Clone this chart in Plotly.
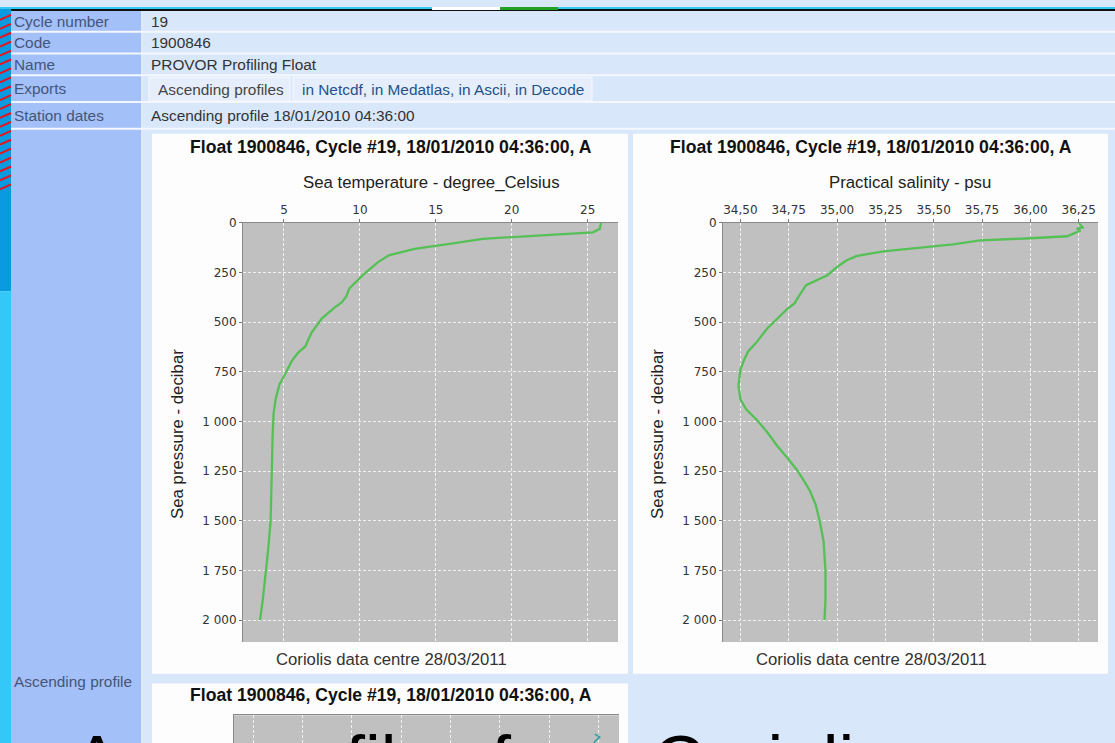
import plotly.graph_objects as go

W, H = 1115, 743

# ---------------- data ----------------
temp_pressure = [0, 30, 47, 72, 80, 105, 130, 163, 197, 255, 297, 330, 370, 400, 425, 450, 480,
                 555, 622, 655, 697, 772, 813, 888, 955, 1072, 1200, 1350, 1500, 1650, 1805, 1900, 2000]
temperature = [25.88, 25.8, 25.35, 20.25, 18.1, 15.9, 13.6, 11.9, 11.2, 10.3, 9.7, 9.3, 9.1, 8.8, 8.35, 7.95,
               7.5, 6.8, 6.4, 5.9, 5.5, 5.0, 4.7, 4.45, 4.32, 4.25, 4.2, 4.18, 4.12, 3.95, 3.75, 3.6, 3.42]

sal_pressure = [0, 22, 30, 38, 55, 67, 77, 88, 108, 127, 143, 160, 167, 188, 222, 263, 285, 313, 372,
                405, 435, 480, 530, 605, 647, 688, 738, 822, 888, 938, 997, 1055, 1122, 1180, 1240,
                1300, 1350, 1420, 1500, 1600, 1750, 1900, 2000]
salinity = [36.25, 36.27, 36.24, 36.26, 36.22, 36.19, 36.0, 35.74, 35.60, 35.40, 35.24, 35.14, 35.10,
            35.05, 35.0, 34.95, 34.90, 34.84, 34.80, 34.78, 34.74, 34.69, 34.64, 34.58, 34.54, 34.52,
            34.50, 34.49, 34.50, 34.53, 34.59, 34.64, 34.69, 34.74, 34.79, 34.83, 34.86, 34.89, 34.91,
            34.93, 34.94, 34.94, 34.935]

third_pressure = [95, 110, 125, 140]
third_values = [7.92, 8.02, 7.95, 7.9]

temp_ticks = [5, 10, 15, 20, 25]
sal_ticks = [34.50, 34.75, 35.00, 35.25, 35.50, 35.75, 36.00, 36.25]
pres_ticks = [0, 250, 500, 750, 1000, 1250, 1500, 1750, 2000]
third_ticks = [1, 2, 3, 4, 5, 6, 7, 8]

row_labels = ["Cycle number", "Code", "Name", "Exports", "Station dates"]
row_values = ["19", "1900846", "PROVOR Profiling Float", "", "Ascending profile 18/01/2010 04:36:00"]

chart_title = "Float 1900846, Cycle #19, 18/01/2010 04:36:00, A"
footer = "Coriolis data centre 28/03/2011"

# ---------------- helpers ----------------
def fx(x):
    return x / W

def fy(y):
    return 1 - y / H

shapes = []
annotations = []

def rect(x0, y0, x1, y1, color, line=None):
    shapes.append(dict(type="rect", xref="paper", yref="paper", layer="below",
                       x0=fx(x0), x1=fx(x1), y0=fy(y1), y1=fy(y0),
                       fillcolor=color, line=dict(width=1, color=line) if line else dict(width=0)))

def seg(x0, y0, x1, y1, color, width=1):
    shapes.append(dict(type="line", xref="paper", yref="paper", layer="below",
                       x0=fx(x0), x1=fx(x1), y0=fy(y0), y1=fy(y1),
                       line=dict(color=color, width=width)))

FONT = "Liberation Sans, Arial"

def text(x, y, s, size=15.4, color="#333", xanchor="left", bold=False, angle=0, family=FONT):
    annotations.append(dict(xref="paper", yref="paper", x=fx(x), y=fy(y), text=("<b>%s</b>" % s) if bold else s,
                            showarrow=False, xanchor=xanchor, yanchor="middle", textangle=angle,
                            borderpad=0, font=dict(size=size, color=color, family=family)))

# ---------------- page background ----------------
rect(0, 0, 11, 287, "#0a9ae0")
rect(0, 287, 11, 743, "#33c8f8")
rect(11, 0, 141, 743, "#a3c0f8")
rect(141, 0, 143, 743, "#dfe9fb")
rect(143, 0, 1115, 743, "#d9e7fb")
# red squiggles on the left strip
for yy in range(8, 185, 9):
    seg(0, yy + 5, 11, yy, "#e8141c", 2)
seg(0, 1, 1115, 1, "#33c8f8", 2)
seg(11, 3, 1115, 3, "#111111", 2)
rect(432, 0, 500, 3, "#ffffff")
rect(500, 0, 558, 3, "#22a022")

# row separators
for yy in [25, 47, 69, 96, 123]:
    seg(11, yy, 1115, yy, "#f4f8fe", 2)

row_y = [15, 36, 58, 82, 110]
for lab, val, yy in zip(row_labels, row_values, row_y):
    text(13, yy, lab, 15.4, "#45557a")
    if val:
        text(150, yy, val, 15.4, "#333333")

# Exports boxes
rect(149, 71, 290, 95, "#e6eefc", "#f6f9ff")
rect(293, 71, 592, 95, "#e6eefc", "#f6f9ff")
text(157, 83, "Ascending profiles", 15.4, "#444444")
text(301, 83, "in Netcdf, in Medatlas, in Ascii, in Decode", 15.4, "#245288")

text(13, 681, "Ascending profile", 15.4, "#45557a")

# chart panels (white image backgrounds)
rect(152, 128, 628, 673, "#fdfdfd")
rect(633, 128, 1108, 673, "#fdfdfd")
rect(152, 683, 628, 745, "#fdfdfd")

# gray plotting areas (the panel rects above would otherwise hide plot_bgcolor)
PLOT_BG = "#c0c0c0"
rect(243, 218, 618, 641, PLOT_BG)
rect(723, 218, 1098, 641, PLOT_BG)
rect(234, 715, 619, 745, PLOT_BG)

# chart texts
for cx in [391, 871]:
    text(cx, 141, chart_title, 17.6, "#111111", "center", bold=True)
    text(cx, 659, footer, 16.7, "#333333", "center")
text(391, 695, chart_title, 17.6, "#111111", "center", bold=True)

text(431, 177, "Sea temperature - degree_Celsius", 16.8, "#222222", "center")
text(910, 177, "Practical salinity - psu", 16.8, "#222222", "center")
text(178, 431, "Sea pressure - decibar", 16.8, "#222222", "center", angle=-90)
text(658, 431, "Sea pressure - decibar", 16.8, "#222222", "center", angle=-90)

# big overlay slide text
annotations.append(dict(xref="paper", yref="paper", x=fx(72), y=fy(720), xanchor="left", yanchor="top",
                        text="Argo profiles from Coriolis", showarrow=False, borderpad=0,
                        font=dict(size=71, color="#000000", family=FONT)))

# ---------------- traces ----------------
line_color = "#55c055"
fig = go.Figure()
fig.add_trace(go.Scatter(x=temperature, y=temp_pressure, mode="lines",
                         line=dict(color=line_color, width=2.3), xaxis="x", yaxis="y", showlegend=False))
fig.add_trace(go.Scatter(x=salinity, y=sal_pressure, mode="lines",
                         line=dict(color=line_color, width=2.3), xaxis="x2", yaxis="y2", showlegend=False))
fig.add_trace(go.Scatter(x=third_values, y=third_pressure, mode="lines",
                         line=dict(color="#2aa0a0", width=1.5), xaxis="x3", yaxis="y3", showlegend=False))

TICKFONT = dict(size=12, color="#333333", family="DejaVu Sans, Liberation Sans")
common_x = dict(side="top", showgrid=True, gridcolor="#f2f2f2", griddash="3px,2px", gridwidth=1,
                ticks="outside", ticklen=3, tickcolor="#777", showline=True, linecolor="#8a8a8a",
                tickfont=TICKFONT, zeroline=False, fixedrange=True)
common_y = dict(showgrid=True, gridcolor="#f2f2f2", griddash="3px,2px", gridwidth=1,
                ticks="outside", ticklen=3, tickcolor="#777", showline=True, linecolor="#8a8a8a",
                tickfont=TICKFONT, zeroline=False, tickformat=",d", fixedrange=True)

fig.update_layout(
    width=W, height=H, margin=dict(l=0, r=0, t=0, b=0),
    paper_bgcolor="#d9e7fb", plot_bgcolor=PLOT_BG,
    separators=", ",
    showlegend=False,
    xaxis=dict(domain=[fx(243), fx(618)], range=[2.3, 27.0], tickvals=temp_ticks, anchor="y", **common_x),
    yaxis=dict(domain=[fy(641), fy(218)], range=[2110, 0], tickvals=pres_ticks, anchor="x", **common_y),
    xaxis2=dict(domain=[fx(723), fx(1098)], range=[34.41, 36.35], tickvals=sal_ticks, tickformat=".2f",
                anchor="y2", **common_x),
    yaxis2=dict(domain=[fy(641), fy(218)], range=[2110, 0], tickvals=pres_ticks, anchor="x2", **common_y),
    xaxis3=dict(domain=[fx(234), fx(619)], range=[0.615, 8.41], tickvals=third_ticks, anchor="y3",
                showticklabels=False, **{k: v for k, v in common_x.items() if k not in ("ticks",)}),
    yaxis3=dict(domain=[0, fy(715)], range=[140, 0], anchor="x3", showticklabels=False, showgrid=False,
                showline=True, linecolor="#8a8a8a", zeroline=False, fixedrange=True),
    shapes=shapes,
    annotations=annotations,
)

post = ("document.body.style.margin='0';document.body.style.overflow='hidden';"
        "var d=document.getElementById('{plot_id}');d.style.position='fixed';d.style.left='0px';d.style.top='0px';")
fig.write_html("out.html", post_script=post, config={"displayModeBar": False})
